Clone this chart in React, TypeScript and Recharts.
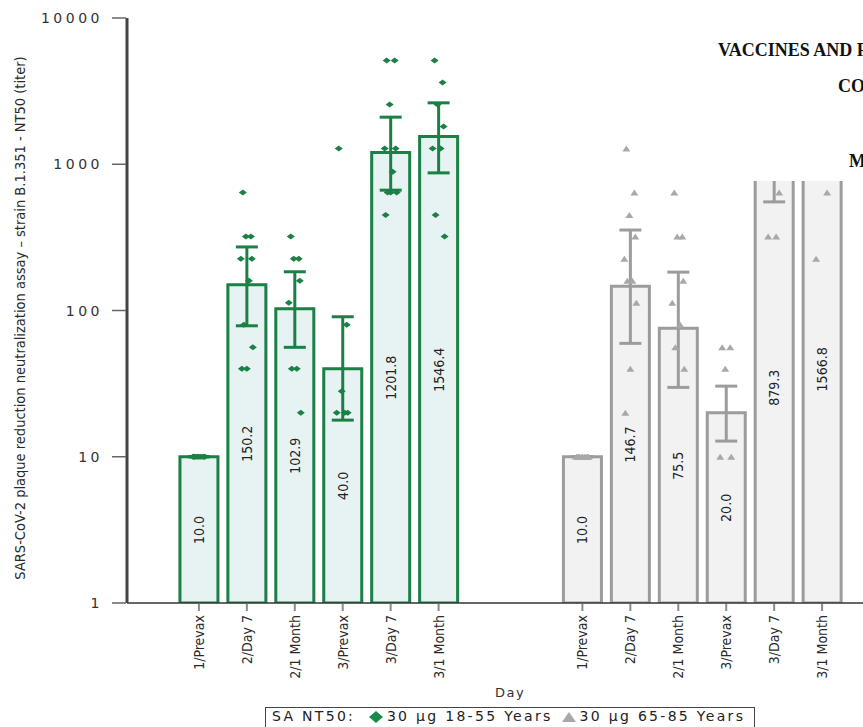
import React from 'react';
import {
    ComposedChart,
    Bar,
    Cell,
    ErrorBar,
    LabelList,
    Scatter,
    XAxis,
    YAxis,
} from 'recharts';

// visits per age group
const visits = ['1/Prevax', '2/Day 7', '2/1 Month', '3/Prevax', '3/Day 7', '3/1 Month'];

// 30 µg 18-55 years
const gmtYoung = [10.0, 150.2, 102.9, 40.0, 1201.8, 1546.4];
const ciLowYoung = [10, 78.6, 56, 17.8, 665, 873];
const ciHighYoung = [10, 272, 184, 90.6, 2099, 2630];
const ptsYoung = [
    [10, 10, 10, 10, 10, 10, 10, 10, 10, 10],
    [640, 320, 320, 226, 226, 160, 80, 56, 40, 40],
    [320, 226, 226, 160, 113, 40, 40, 20],
    [1280, 80, 28, 20, 20, 20],
    [5120, 5120, 2560, 1280, 1280, 887, 640, 640, 640, 450],
    [5120, 3620, 2560, 1810, 1280, 1280, 450, 320],
];

// 30 µg 65-85 years
const gmtOld = [10.0, 146.7, 75.5, 20.0, 879.3, 1566.8];
const ciLowOld = [10, 59.6, 29.8, 12.8, 553, 1100];
const ciHighOld = [10, 355, 183, 30.4, 1400, 2230];
const ptsOld = [
    [10, 10, 10, 10, 10, 10, 10, 10, 10, 10],
    [1280, 640, 450, 320, 226, 160, 160, 113, 40, 20],
    [640, 320, 320, 160, 113, 80, 56, 40],
    [56, 56, 40, 10, 10],
    [2560, 1280, 1280, 640, 320, 320],
    [5120, 2560, 1810, 640, 226],
];

const yTicks = [1, 10, 100, 1000, 10000];

const GREEN = '#1b8046';
const GREEN_FILL = '#e7f3f2';
const GRAY = '#9c9c9c';
const GRAY_FILL = '#f2f2f2';
const NARROW = "'Liberation Sans Narrow', 'DejaVu Sans Condensed', sans-serif";
const WIDE = "'DejaVu Sans', Verdana, sans-serif";
const JITTER = [-4, 4, -1, 5, -6, 2, -3, 6, 0, -5];

// layout of the category axis: pad, group A, two gaps, group B, pad
const slots: (null | { g: 'A' | 'B'; i: number })[] = [
    null,
    ...visits.map((_, i) => ({ g: 'A' as const, i })),
    null,
    null,
    ...visits.map((_, i) => ({ g: 'B' as const, i })),
    null,
];

const rows = slots.map((s, k) => {
    if (!s) return { key: `c${k}`, label: '' };
    const young = s.g === 'A';
    const gmt = young ? gmtYoung[s.i] : gmtOld[s.i];
    const lo = young ? ciLowYoung[s.i] : ciLowOld[s.i];
    const hi = young ? ciHighYoung[s.i] : ciHighOld[s.i];
    const err = [gmt - lo, hi - gmt];
    return {
        key: `c${k}`,
        label: visits[s.i],
        group: s.g,
        gmt,
        errA: young ? err : undefined,
        errB: young ? undefined : err,
    };
});

const pointsFor = (g: 'A' | 'B') => {
    const out: { x: number; y: number; n: number }[] = [];
    slots.forEach((s, k) => {
        if (!s || s.g !== g) return;
        const vals = g === 'A' ? ptsYoung[s.i] : ptsOld[s.i];
        vals.forEach((v, n) => out.push({ x: k + 0.5, y: v, n }));
    });
    return out;
};
const pointsYoung = pointsFor('A');
const pointsOld = pointsFor('B');

const XTick = (props: any) => {
    const { x, y, payload } = props;
    const row = rows.find((r) => r.key === payload.value);
    if (!row || !row.label) return null;
    const ty = y + 12;
    return (
        <g>
            <line x1={x} x2={x} y1={y + 1} y2={y + 8} stroke="#8a8a8a" strokeWidth={2} />
            <text
                x={x}
                y={ty}
                dy="0.36em"
                textAnchor="end"
                transform={`rotate(-90 ${x} ${ty})`}
                fontFamily={NARROW}
                fontSize={14}
                fill="#2a2a2a"
            >
                {row.label}
            </text>
        </g>
    );
};

const YTick = (props: any) => {
    const { x, y, payload } = props;
    return (
        <g>
            <line x1={x - 15} x2={x - 1} y1={y} y2={y} stroke="#666" strokeWidth={1.5} />
            <text
                x={x - 24}
                y={y}
                dy="0.36em"
                textAnchor="end"
                fontFamily={WIDE}
                fontSize={14}
                letterSpacing={3.5}
                fill="#333"
            >
                {payload.value}
            </text>
        </g>
    );
};

const BarValue = (props: any) => {
    const { x, y, width, height, value } = props;
    if (value == null || !height) return null;
    const cx = x + width / 2;
    const cy = y + height / 2;
    return (
        <text
            x={cx}
            y={cy}
            dy="0.36em"
            textAnchor="middle"
            transform={`rotate(-90 ${cx} ${cy})`}
            fontFamily={NARROW}
            fontSize={14}
            fill="#222"
        >
            {Number(value).toFixed(1)}
        </text>
    );
};

const Diamond = (props: any) => {
    const { cx, cy, payload } = props;
    const dx = cx + JITTER[payload.n % JITTER.length];
    return <path d={`M${dx - 4},${cy} L${dx},${cy - 3} L${dx + 4},${cy} L${dx},${cy + 3} Z`} fill={GREEN} />;
};

const Triangle = (props: any) => {
    const { cx, cy, payload } = props;
    const dx = cx + JITTER[payload.n % JITTER.length];
    return <path d={`M${dx - 4},${cy + 3} L${dx},${cy - 3} L${dx + 4},${cy + 3} Z`} fill="#a8a8a8" />;
};

export default function App() {
    return (
        <div
            style={{
                position: 'fixed',
                left: 0,
                top: 0,
                width: 863,
                height: 727,
                overflow: 'hidden',
                background: '#fff',
            }}
        >
            <ComposedChart
                width={900}
                height={727}
                data={rows}
                margin={{ top: 18, right: 6, bottom: 44, left: 0 }}
                barSize={38}
            >
                <XAxis
                    dataKey="key"
                    type="category"
                    interval={0}
                    height={80}
                    tickSize={0}
                    tickMargin={0}
                    tickLine={false}
                    tick={<XTick />}
                    axisLine={{ stroke: '#333', strokeWidth: 1.5 }}
                />
                <XAxis
                    xAxisId="pts"
                    dataKey="x"
                    type="number"
                    domain={[0, slots.length]}
                    hide
                    height={0}
                    allowDataOverflow
                />
                <YAxis
                    scale="log"
                    type="number"
                    domain={[1, 10000]}
                    ticks={yTicks}
                    allowDataOverflow
                    width={127}
                    tickSize={0}
                    tickMargin={0}
                    tickLine={false}
                    tick={<YTick />}
                    axisLine={{ stroke: '#444', strokeWidth: 3 }}
                />
                <Bar dataKey="gmt" strokeWidth={3} isAnimationActive={false}>
                    {rows.map((r) => (
                        <Cell
                            key={r.key}
                            fill={r.group === 'A' ? GREEN_FILL : GRAY_FILL}
                            stroke={r.group === 'A' ? GREEN : GRAY}
                        />
                    ))}
                    <LabelList dataKey="gmt" content={<BarValue />} />
                    <ErrorBar dataKey="errA" stroke={GREEN} strokeWidth={3} width={11} direction="y" />
                    <ErrorBar dataKey="errB" stroke={GRAY} strokeWidth={3} width={11} direction="y" />
                </Bar>
                <Scatter
                    data={pointsYoung}
                    dataKey="y"
                    xAxisId="pts"
                    shape={<Diamond />}
                    isAnimationActive={false}
                />
                <Scatter
                    data={pointsOld}
                    dataKey="y"
                    xAxisId="pts"
                    shape={<Triangle />}
                    isAnimationActive={false}
                />
            </ComposedChart>

            {/* y axis title */}
            <div
                style={{
                    position: 'absolute',
                    left: 20 - 300,
                    top: 318 - 10,
                    width: 600,
                    height: 20,
                    lineHeight: '20px',
                    textAlign: 'center',
                    transform: 'rotate(-90deg)',
                    fontFamily: NARROW,
                    fontSize: 14.5,
                    color: '#2a2a2a',
                    whiteSpace: 'nowrap',
                }}
            >
                SARS-CoV-2 plaque reduction neutralization assay – strain B.1.351 - NT50 (titer)
            </div>

            {/* x axis title */}
            <div
                style={{
                    position: 'absolute',
                    left: 460,
                    top: 685,
                    width: 100,
                    textAlign: 'center',
                    fontFamily: WIDE,
                    fontSize: 13,
                    letterSpacing: 1.5,
                    color: '#333',
                }}
            >
                Day
            </div>

            {/* legend */}
            <div
                style={{
                    position: 'absolute',
                    left: 265,
                    top: 707,
                    width: 490,
                    height: 22,
                    border: '1.5px solid #444',
                    boxSizing: 'border-box',
                    fontFamily: WIDE,
                    fontSize: 14,
                    letterSpacing: 2.3,
                    color: '#222',
                    whiteSpace: 'pre',
                    paddingLeft: 6,
                    lineHeight: '17px',
                    display: 'flex',
                    alignItems: 'flex-start',
                }}
            >
                <span>SA NT50: </span>
                <svg width={16} height={14} style={{ marginLeft: 6, marginRight: 3, marginTop: 2 }}>
                    <path d="M1,7 L8,1 L15,7 L8,13 Z" fill="#1a8a4a" />
                </svg>
                <span>30 μg 18-55 Years</span>
                <svg width={16} height={14} style={{ marginLeft: 8, marginRight: 3, marginTop: 2 }}>
                    <path d="M1,12 L8,2 L15,12 Z" fill="#a8a8a8" />
                </svg>
                <span>30 μg 65-85 Years</span>
            </div>

            {/* pasted page fragment covering top right */}
            <div
                style={{
                    position: 'absolute',
                    left: 712,
                    top: 0,
                    width: 151,
                    height: 181,
                    background: '#fff',
                    overflow: 'hidden',
                    fontFamily: "'Liberation Serif', 'Times New Roman', serif",
                    fontWeight: 'bold',
                    fontSize: 18,
                    color: '#111',
                    whiteSpace: 'nowrap',
                }}
            >
                <div style={{ position: 'absolute', left: 6, top: 40 }}>
                    VACCINES AND RELATED BIOLOGICAL PRODUCTS ADVISORY COMMITTEE
                </div>
                <div style={{ position: 'absolute', left: 126, top: 76 }}>COVID-19 VACCINE</div>
                <div style={{ position: 'absolute', left: 137, top: 151 }}>MEETING</div>
            </div>
        </div>
    );
}
